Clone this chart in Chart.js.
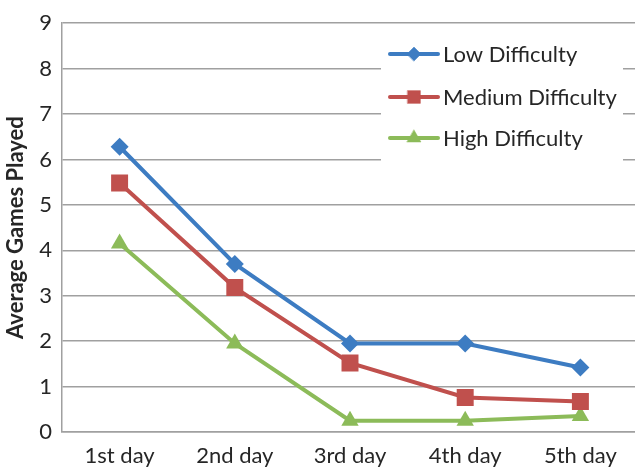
<!DOCTYPE html>
<html>
<head>
<meta charset="utf-8">
<script src="https://cdn.jsdelivr.net/npm/chart.js@4.4.1/dist/chart.umd.min.js"></script>
<style>
  html, body { margin: 0; padding: 0; background: #fff; overflow: hidden; }
  #wrap { width: 650px; height: 468px; }
</style>
</head>
<body>
<div id="wrap"><canvas id="gamesChart" width="650" height="468"></canvas></div>
<script>
// Data
const days = ['1st day', '2nd day', '3rd day', '4th day', '5th day'];
const lowDifficulty = [6.28, 3.70, 1.95, 1.95, 1.42];
const mediumDifficulty = [5.48, 3.18, 1.52, 0.76, 0.67];
const highDifficulty = [4.15, 1.95, 0.25, 0.25, 0.35];
const yTicks = [0, 1, 2, 3, 4, 5, 6, 7, 8, 9];

const FONT = 'Lato, "Open Sans", sans-serif';
const TEXT = '#262626';
const GRID = '#a0a0a0';

const BLUE = '#3d7cc2';
const RED = '#c0504d';
const GREEN = '#8cbb59';

function series(label, data, color, style, radius) {
  return {
    label: label,
    data: data,
    borderColor: color,
    backgroundColor: color,
    borderWidth: 4,
    pointStyle: style,
    pointRadius: radius,
    pointHoverRadius: radius,
    pointBorderWidth: 0,
    tension: 0
  };
}

// Legend drawn inside the plot, with a line sample plus marker (like the original)
const insideLegend = {
  id: 'insideLegend',
  afterDraw(chart) {
    const ctx = chart.ctx;
    ctx.save();
    ctx.fillStyle = '#fff';
    ctx.fillRect(381, 31, 242, 130);
    const rows = [54, 97, 138];
    const sizes = [7, 9, 8];
    chart.data.datasets.forEach((ds, i) => {
      const y = rows[i];
      ctx.strokeStyle = ds.borderColor;
      ctx.lineWidth = 4;
      ctx.lineCap = 'round';
      ctx.beginPath();
      ctx.moveTo(390, y);
      ctx.lineTo(438, y);
      ctx.stroke();
      ctx.fillStyle = ds.backgroundColor;
      ctx.strokeStyle = ds.backgroundColor;
      ctx.lineWidth = 0.5;
      Chart.helpers.drawPoint(ctx, {
        pointStyle: ds.pointStyle,
        radius: sizes[i],
        rotation: 0,
        borderWidth: 0.5
      }, 414, y);
      ctx.fillStyle = TEXT;
      ctx.font = '22px ' + FONT;
      ctx.textBaseline = 'middle';
      ctx.textAlign = 'left';
      ctx.fillText(ds.label, 443, y + 1);
    });
    ctx.restore();
  }
};

const chart = new Chart(document.getElementById('gamesChart'), {
  type: 'line',
  data: {
    labels: days,
    datasets: [
      series('Low Difficulty', lowDifficulty, BLUE, 'rectRot', 9),
      series('Medium Difficulty', mediumDifficulty, RED, 'rect', 12),
      series('High Difficulty', highDifficulty, GREEN, 'triangle', 10)
    ]
  },
  options: {
    responsive: false,
    animation: false,
    layout: { padding: { top: 22, right: 5, left: 0, bottom: 0 } },
    plugins: {
      legend: { display: false },
      tooltip: { enabled: false }
    },
    scales: {
      x: {
        offset: true,
        grid: { display: false, drawTicks: false },
        border: { color: GRID, width: 1.5 },
        ticks: { color: TEXT, font: { family: FONT, size: 22 }, padding: 11, maxRotation: 0 },
        afterFit: s => { s.height = 36; }
      },
      y: {
        min: 0,
        max: 9,
        afterBuildTicks: s => { s.ticks = yTicks.map(v => ({ value: v })); },
        grid: { color: GRID, lineWidth: 1.5, drawTicks: false },
        border: { color: GRID, width: 1.5 },
        ticks: { color: TEXT, font: { family: FONT, size: 22 }, padding: 10 },
        title: {
          display: true,
          text: 'Average Games Played',
          color: TEXT,
          font: { family: FONT, size: 22, weight: 'bold' },
          padding: { top: 3, bottom: 0 }
        },
        afterFit: s => { s.width = 62; }
      }
    }
  },
  plugins: [insideLegend]
});
</script>
</body>
</html>
